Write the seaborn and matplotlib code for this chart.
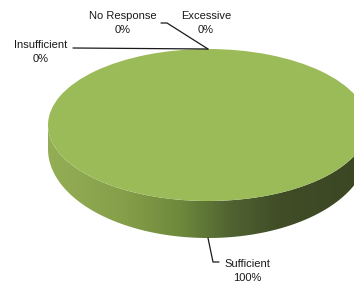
import numpy as np
import matplotlib
matplotlib.use("Agg")
import matplotlib.pyplot as plt
import seaborn as sns
from matplotlib.patches import Polygon
from matplotlib.colors import LinearSegmentedColormap

# Data
categories = ["Sufficient", "Insufficient", "No Response", "Excessive"]
values = [100, 0, 0, 0]

# Label placement (pixels): text centre and leader elbow points
label_pos = {
    "Sufficient": (247, 271),
    "Insufficient": (41, 52),
    "No Response": (123, 23),
    "Excessive": (206, 23),
}
leader_pts = {
    "Sufficient": [(213, 262), (219, 262)],
    "Insufficient": [(73, 48)],
    "No Response": [(167, 23), (161, 23)],
    "Excessive": [],
}

W, H = 354, 288
CX, CY, RX, RY = 208, 125, 160, 76
# bottom rim of the 3D side (slight perspective)
BCY, BRY = 149, 89


def px(x, y):
    return (x - CX) / RX, (CY - y) / RY


sns.set_theme(style="white")
plt.rcParams['font.family'] = ['Liberation Sans', 'DejaVu Sans']

fig = plt.figure(figsize=(W / 100, H / 100), dpi=100)
ax = fig.add_axes([0, 0, 1, 1])

wedges, _ = ax.pie(values, colors=["#9bbb59"] * len(values), startangle=90,
                   counterclock=False, radius=1, center=(0, 0),
                   wedgeprops=dict(linewidth=0, zorder=3))

# 3D side of the pie
bcy = (CY - BCY) / RY
bry = BRY / RY
t = np.linspace(np.pi, 2 * np.pi, 300)
front = np.column_stack([np.cos(t), np.sin(t)])
bottom = np.column_stack([np.cos(t[::-1]), bcy + bry * np.sin(t[::-1])])
side = Polygon(np.vstack([front, bottom]), closed=True, facecolor="none",
               edgecolor="none", zorder=1)
ax.add_patch(side)
stops = [(48, "#93ae55"), (120, "#86a04a"), (180, "#6e893c"),
         (230, "#506331"), (280, "#404d27"), (368, "#3b4623")]
cmap = LinearSegmentedColormap.from_list(
    "side", [((p - 48) / 320, c) for p, c in stops])
grad = np.linspace(0, 1, 320).reshape(1, -1)
img = ax.imshow(grad, extent=(-1, 1, bcy - bry - 0.05, 0.05), aspect="auto",
                cmap=cmap, zorder=1, interpolation="bicubic")
img.set_clip_path(side)

# Labels with leader lines
total = sum(values)
for w, name, v in zip(wedges, categories, values):
    mid = np.deg2rad((w.theta1 + w.theta2) / 2)
    ax_, ay_ = np.cos(mid), np.sin(mid)
    if ay_ < 0:
        ay_ = bcy + bry * ay_
    pts = [(ax_, ay_)] + [px(*p) for p in leader_pts[name]]
    if len(pts) > 1:
        xs, ys = zip(*pts)
        ax.plot(xs, ys, color="#1a1a1a", lw=0.9, zorder=4)
    tx, ty = px(*label_pos[name])
    ax.text(tx, ty, f"{name}\n{v / total * 100:.0f}%", ha="center",
            va="center", fontsize=8, color="#1a1a1a", linespacing=1.4,
            zorder=5)

ax.set_aspect("auto")
ax.set_xlim(px(0, 0)[0], px(W, 0)[0])
ax.set_ylim(px(0, H)[1], px(0, 0)[1])
ax.axis("off")

fig.savefig("out.png", dpi=100, facecolor="white")
